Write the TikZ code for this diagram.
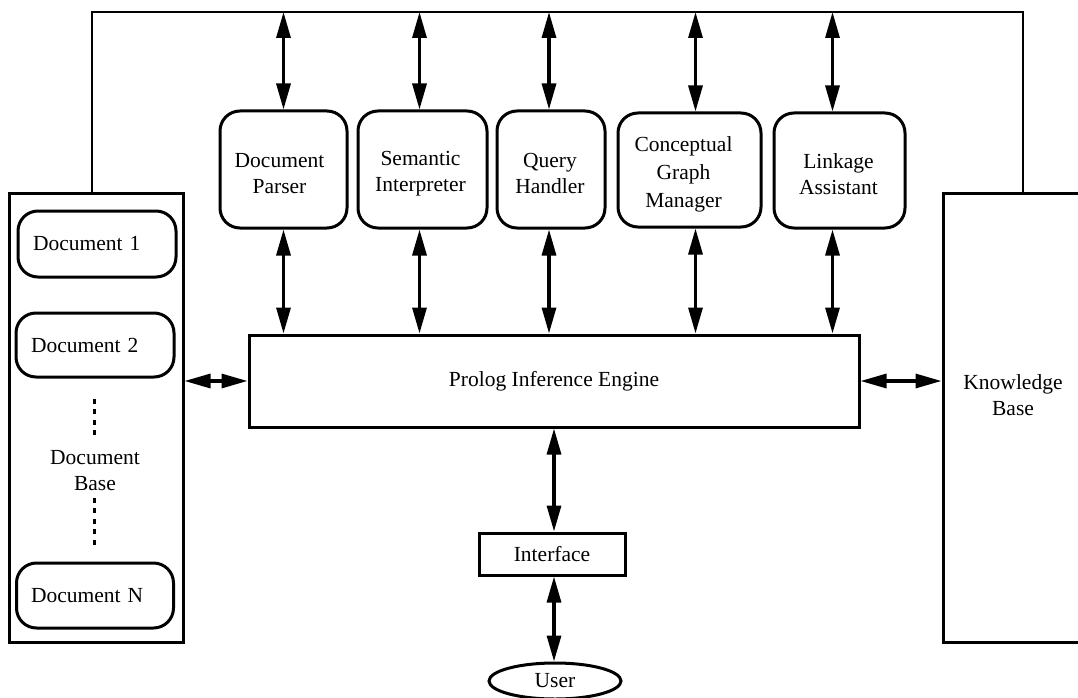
\documentclass[tikz,border=0pt]{standalone}
\usepackage{fontspec}
\setmainfont{Liberation Serif}
\usetikzlibrary{arrows.meta,shapes.geometric}
\begin{document}
\begin{tikzpicture}[x=1pt,y=-1pt,
  every node/.style={font=\fontsize{21.5}{26}\selectfont},
  box/.style={draw,line width=3pt,inner sep=0pt},
  rbox/.style={box,rounded corners=20pt},
  modlab/.style={align=center,inner sep=0pt},
  bi/.style={line width=3.2pt,{Triangle[length=26pt,width=14pt]}-{Triangle[length=26pt,width=14pt]}},
  link/.style={line width=2.8pt},
  dotline/.style={line width=3pt,dash pattern=on 5pt off 5.5pt}]
\useasboundingbox (0,0) rectangle (1078,698);
\clip (0,0) rectangle (1078,698);

% document base
\node[box,minimum width=174pt,minimum height=449pt] (docbase) at (96,417.5) {};
\node[rbox,minimum width=158pt,minimum height=66pt,text width=128pt,align=left] (doc1) at (97,244) {Document 1};
\node[rbox,minimum width=158pt,minimum height=64pt,text width=128pt,align=left] (doc2) at (95,345) {Document 2};
\node[rbox,minimum width=157pt,minimum height=65pt,text width=128pt,align=left] (docN) at (95,595.5) {Document N};
\node[align=center] (dblabel) at (95,471) {Document\\Base};
\draw[dotline] ([shift={(-1,20)}]doc2.south) -- ([shift={(-1,60)}]doc2.south);
\draw[dotline] ([shift={(-1,-64)}]docN.north) -- ([shift={(-1,-13)}]docN.north);

% knowledge base
\node[box,minimum width=187pt,minimum height=449pt] (kb) at (1036.5,417.5) {};
\node[align=center] (kblabel) at (1013,395) {Knowledge\\Base};

% engine
\node[box,minimum width=610pt,minimum height=92pt] (engine) at (554,381) {Prolog Inference Engine};

% modules
\node[rbox,minimum width=127pt,minimum height=117pt] (parser) at (283.5,169.5) {};
\node[rbox,minimum width=129pt,minimum height=117pt] (semantic) at (422.5,169.5) {};
\node[rbox,minimum width=108pt,minimum height=117pt] (query) at (551,169.5) {};
\node[rbox,minimum width=143pt,minimum height=114pt] (cgm) at (689.5,170) {};
\node[rbox,minimum width=131pt,minimum height=115pt] (linkage) at (839.5,170.5) {};
\node[modlab] (parserlab) at ([shift={(-4,4)}]parser.center) {Document\\Parser};
\node[modlab] (semanticlab) at ([shift={(-2,4)}]semantic.center) {Semantic\\Interpreter};
\node[modlab] (querylab) at ([shift={(-1,4)}]query.center) {Query\\Handler};
\node[modlab,font=\fontsize{21.5}{28}\selectfont] (cgmlab) at ([shift={(-6,4)}]cgm.center) {Conceptual\\Graph\\Manager};
\node[modlab] (linkagelab) at ([shift={(-1,4)}]linkage.center) {Linkage\\Assistant};

% interface and user
\node[box,minimum width=146pt,minimum height=42pt] (iface) at (552,554) {Interface};
\node[draw,ellipse,line width=3pt,minimum width=132pt,minimum height=36pt,inner sep=0pt] (user) at (555,681) {User};

% top bus
\coordinate (tl) at (92,12);
\coordinate (tr) at (1023,12);
\draw[link] (docbase.north -| tl) -- (tl) -- (tr) -- (kb.north -| tr);

% module arrows
\draw[bi] (parser.north |- tl) -- (parser.north);
\draw[bi] (parser.south) -- (parser.south |- engine.north);
\draw[bi] ([shift={(-3,0)}]semantic.north |- tl) -- ([shift={(-3,0)}]semantic.north);
\draw[bi] ([shift={(-3,0)}]semantic.south) -- ([shift={(-3,0)}]semantic.south |- engine.north);
\draw[bi] ([shift={(-2,0)}]query.north |- tl) -- ([shift={(-2,0)}]query.north);
\draw[bi] ([shift={(-2,0)}]query.south) -- ([shift={(-2,0)}]query.south |- engine.north);
\draw[bi] ([shift={(6,0)}]cgm.north |- tl) -- ([shift={(6,0)}]cgm.north);
\draw[bi] ([shift={(6,0)}]cgm.south) -- ([shift={(6,0)}]cgm.south |- engine.north);
\draw[bi] ([shift={(-7,0)}]linkage.north |- tl) -- ([shift={(-7,0)}]linkage.north);
\draw[bi] ([shift={(-7,0)}]linkage.south) -- ([shift={(-7,0)}]linkage.south |- engine.north);

% side arrows
\draw[bi] (engine.west -| docbase.east) -- (engine.west);
\draw[bi] (engine.east) -- (engine.east -| kb.west);

% interface arrows
\draw[bi] (engine.south) -- (engine.south |- iface.north);
\draw[bi] (iface.south -| engine.south) -- (user.north -| engine.south);
\end{tikzpicture}
\end{document}
